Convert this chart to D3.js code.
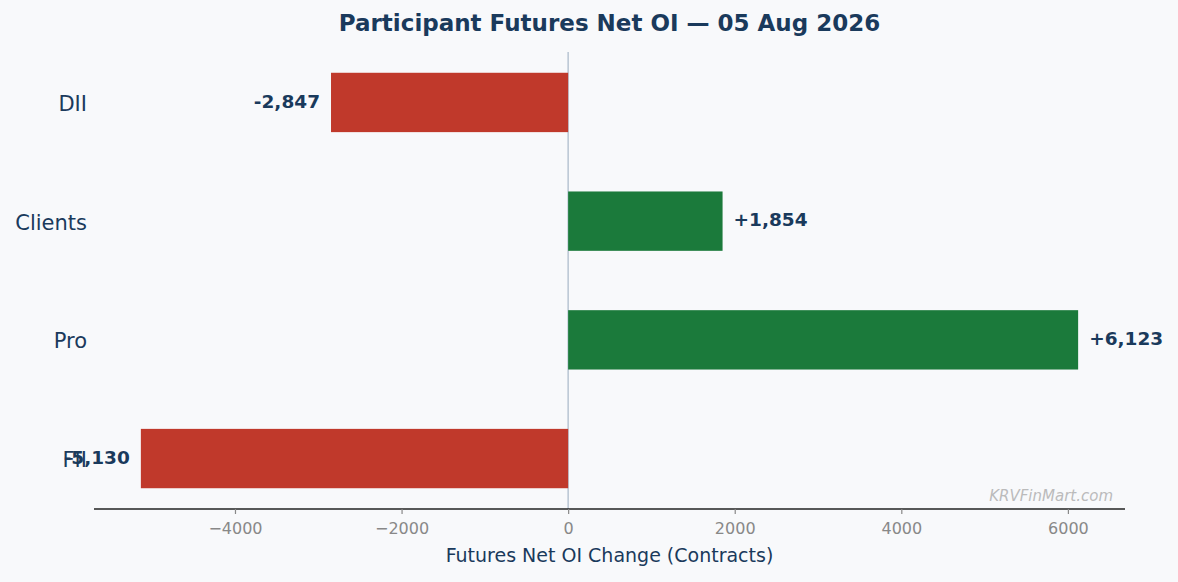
<!DOCTYPE html>
<html>
<head>
<meta charset="utf-8">
<script src="https://d3js.org/d3.v7.min.js"></script>
<style>
  html, body { margin: 0; padding: 0; background: #f8f9fb; }
  svg { display: block; font-family: "DejaVu Sans", sans-serif; }
</style>
</head>
<body>
<script>
// data, listed bottom to top like the chart
const participants = ["FII", "Pro", "Clients", "DII"];
const netOI = [-5130, 6123, 1854, -2847];
const xTicks = [-4000, -2000, 0, 2000, 4000, 6000];
const titleText = "Participant Futures Net OI \u2014 05 Aug 2026";
const xLabel = "Futures Net OI Change (Contracts)";
const watermark = "KRVFinMart.com";

const W = 1178, H = 582;
const margin = {top: 52, right: 53, bottom: 73, left: 94};
const width = W - margin.left - margin.right,
      height = H - margin.top - margin.bottom;

const navy = "#1a3a5c", red = "#c0392b", green = "#1b7a3b";

const svg = d3.select("body").append("svg")
    .attr("width", W).attr("height", H)
    .style("background", "#f8f9fb");

const g = svg.append("g")
    .attr("transform", "translate(" + margin.left + "," + margin.top + ")");

// 5% padding on the data range, like matplotlib
const ext = d3.extent(netOI.concat([0]));
const pad = (ext[1] - ext[0]) * 0.05;
const x = d3.scaleLinear().domain([ext[0] - pad, ext[1] + pad]).range([0, width]);

const barH = 0.5;
const ypad = (participants.length - 1 + barH) * 0.05;
const y = d3.scaleLinear()
    .domain([-barH / 2 - ypad, participants.length - 1 + barH / 2 + ypad])
    .range([height, 0]);

// zero line
g.append("line")
    .attr("x1", x(0)).attr("x2", x(0))
    .attr("y1", 0).attr("y2", height)
    .attr("stroke", "#b8c4d2").attr("stroke-width", 1.5);

// bars
g.selectAll(".bar")
    .data(netOI)
    .enter().append("rect")
    .attr("class", "bar")
    .attr("x", d => x(Math.min(0, d)))
    .attr("width", d => Math.abs(x(d) - x(0)))
    .attr("y", (d, i) => y(i + barH / 2))
    .attr("height", y(0) - y(barH))
    .attr("fill", d => d < 0 ? red : green);

// value labels
const fmt = d3.format(",");
g.selectAll(".val")
    .data(netOI)
    .enter().append("text")
    .attr("class", "val")
    .attr("x", d => d < 0 ? x(d) - 11 : x(d) + 11)
    .attr("y", (d, i) => y(i))
    .attr("dy", "0.28em")
    .attr("text-anchor", d => d < 0 ? "end" : "start")
    .attr("font-size", 18.5).attr("font-weight", "bold")
    .attr("fill", navy)
    .text(d => (d > 0 ? "+" : "-") + fmt(Math.abs(d)));

// category labels
g.selectAll(".cat")
    .data(participants)
    .enter().append("text")
    .attr("class", "cat")
    .attr("x", -7)
    .attr("y", (d, i) => y(i))
    .attr("dy", "0.4em")
    .attr("text-anchor", "end")
    .attr("font-size", 21)
    .attr("fill", navy)
    .text(d => d);

// x axis
const xAxis = g.append("g")
    .attr("transform", "translate(0," + height + ")")
    .call(d3.axisBottom(x).tickValues(xTicks).tickSize(5).tickPadding(9)
        .tickFormat(d => d < 0 ? "\u2212" + Math.abs(d) : d));
xAxis.select(".domain").attr("stroke", "#222").attr("stroke-width", 1.6)
    .attr("d", "M0,0H" + width);
xAxis.selectAll(".tick line").attr("stroke", "#888").attr("stroke-width", 1.2);
xAxis.selectAll(".tick text").attr("fill", "#888")
    .attr("font-size", 16).attr("font-family", "DejaVu Sans");

// axis label
g.append("text")
    .attr("x", width / 2).attr("y", height + 53)
    .attr("text-anchor", "middle")
    .attr("font-size", 19).attr("fill", navy)
    .text(xLabel);

// title
svg.append("text")
    .attr("x", margin.left + width / 2).attr("y", 31)
    .attr("text-anchor", "middle")
    .attr("font-size", 23).attr("font-weight", "bold")
    .attr("fill", navy)
    .text(titleText);

// watermark
g.append("text")
    .attr("x", width - 12).attr("y", height - 8)
    .attr("text-anchor", "end")
    .attr("font-size", 15).attr("font-style", "italic")
    .attr("fill", "#bbbbbb")
    .text(watermark);
</script>
</body>
</html>
